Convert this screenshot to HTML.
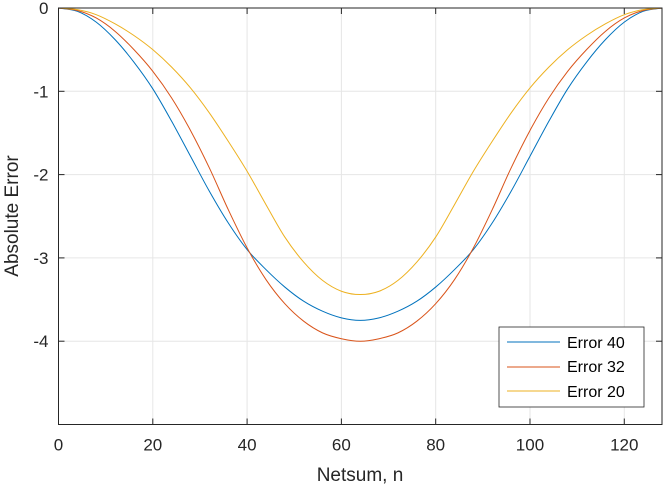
<!DOCTYPE html>
<html><head><meta charset="utf-8"><style>
body{margin:0;background:#fff;}
svg{display:block;font-family:"Liberation Sans",sans-serif;}
</style></head><body>
<svg id="chart" width="664" height="489" viewBox="0 0 664 489">
<rect x="0" y="0" width="664" height="489" fill="#fff"/>
<g id="grid"></g>
<g id="series"></g>
<rect x="58.5" y="8" width="603.5" height="416.5" fill="none" stroke="#262626" stroke-width="1"/>
<g id="ticks"></g>
<text x="360" y="481" text-anchor="middle" font-size="19" fill="#262626">Netsum, n</text>
<text transform="translate(18,216) rotate(-90)" text-anchor="middle" font-size="19" fill="#262626">Absolute Error</text>
<g>
<rect x="499" y="327" width="145" height="80" fill="#fff" stroke="#262626" stroke-width="0.8"/>
<g><line x1="507" y1="342" x2="560" y2="342" stroke="#0072BD" stroke-width="1"/><text x="567" y="348" font-size="16" fill="#000">Error 40</text></g>
<g><line x1="507" y1="367" x2="560" y2="367" stroke="#D95319" stroke-width="1"/><text x="567" y="372" font-size="16" fill="#000">Error 32</text></g>
<g><line x1="507" y1="391" x2="560" y2="391" stroke="#EDB120" stroke-width="1"/><text x="567" y="397" font-size="16" fill="#000">Error 20</text></g>
</g>
</svg>
<script>
const nValues=[0,4,8,12,16,20,24,28,32,36,40,44,48,52,56,60,64,68,72,76,80,84,88,92,96,100,104,108,112,116,120,124,128];
const error40=[0,-0.04,-0.17,-0.38,-0.65,-0.97,-1.36,-1.78,-2.2,-2.58,-2.9,-3.14,-3.35,-3.52,-3.64,-3.72,-3.75,-3.72,-3.64,-3.52,-3.35,-3.14,-2.9,-2.58,-2.2,-1.78,-1.36,-0.97,-0.65,-0.38,-0.17,-0.04,0];
const error32=[0,-0.03,-0.12,-0.28,-0.5,-0.76,-1.08,-1.47,-1.92,-2.42,-2.88,-3.26,-3.55,-3.76,-3.9,-3.97,-4.0,-3.97,-3.9,-3.76,-3.55,-3.26,-2.88,-2.42,-1.92,-1.47,-1.08,-0.76,-0.5,-0.28,-0.12,-0.03,0];
const error20=[0,-0.02,-0.08,-0.19,-0.33,-0.5,-0.71,-0.96,-1.26,-1.6,-1.96,-2.36,-2.75,-3.05,-3.27,-3.4,-3.44,-3.4,-3.27,-3.05,-2.75,-2.36,-1.96,-1.6,-1.26,-0.96,-0.71,-0.5,-0.33,-0.19,-0.08,-0.02,0];
const xTicks=[0,20,40,60,80,100,120];
const yTicks=[0,-1,-2,-3,-4];
const NS="http://www.w3.org/2000/svg";
const X0=58.5,X1=662,Y0=8,Y1=424.5;
function sx(v){return X0+(v-0)/(128-0)*(X1-X0);}
function sy(v){return Y0+(0-v)/(0+5)*(Y1-Y0);}
const grid=document.getElementById('grid'),ticks=document.getElementById('ticks'),series=document.getElementById('series');
function mk(tag,attrs,parent){const e=document.createElementNS(NS,tag);for(const k in attrs)e.setAttribute(k,attrs[k]);parent.appendChild(e);return e;}
xTicks.forEach(t=>{
  const g=mk('line',{x1:sx(t),x2:sx(t),y1:Y0,y2:Y1,stroke:'#e6e6e6','stroke-width':1},grid);
  
  
  mk('line',{x1:sx(t),x2:sx(t),y1:Y1,y2:Y1-6,stroke:'#262626'},ticks);
  mk('line',{x1:sx(t),x2:sx(t),y1:Y0,y2:Y0+6,stroke:'#262626'},ticks);
  const l=mk('text',{x:sx(t),y:Y1+26,'text-anchor':'middle','font-size':17,fill:'#262626'},ticks);
  l.textContent=t;
  
  
});
yTicks.forEach(t=>{
  const g=mk('line',{x1:X0,x2:X1,y1:sy(t),y2:sy(t),stroke:'#e6e6e6','stroke-width':1},grid);
  
  
  mk('line',{x1:X0,x2:X0+6,y1:sy(t),y2:sy(t),stroke:'#262626'},ticks);
  mk('line',{x1:X1,x2:X1-6,y1:sy(t),y2:sy(t),stroke:'#262626'},ticks);
  const l=mk('text',{x:X0-10,y:sy(t)+6,'text-anchor':'end','font-size':17,fill:'#262626'},ticks);
  l.textContent=t;
  
  
});
function path(vals){
  const p=nValues.map((n,i)=>[sx(n),sy(vals[i])]);
  let d='M'+p[0][0]+','+p[0][1];
  for(let i=0;i<p.length-1;i++){
    const a=p[Math.max(i-1,0)],b=p[i],c=p[i+1],e=p[Math.min(i+2,p.length-1)];
    const c1=[b[0]+(c[0]-a[0])/6,b[1]+(c[1]-a[1])/6],c2=[c[0]-(e[0]-b[0])/6,c[1]-(e[1]-b[1])/6];
    d+=' C'+c1+' '+c2+' '+c;
  }
  return d;
}
[[error40,'#0072BD','line-error-40'],[error32,'#D95319','line-error-32'],[error20,'#EDB120','line-error-20']].forEach(s=>{
  const e=mk('path',{d:path(s[0]),fill:'none',stroke:s[1],'stroke-width':1},series);
  
  
});
</script>
</body></html>
